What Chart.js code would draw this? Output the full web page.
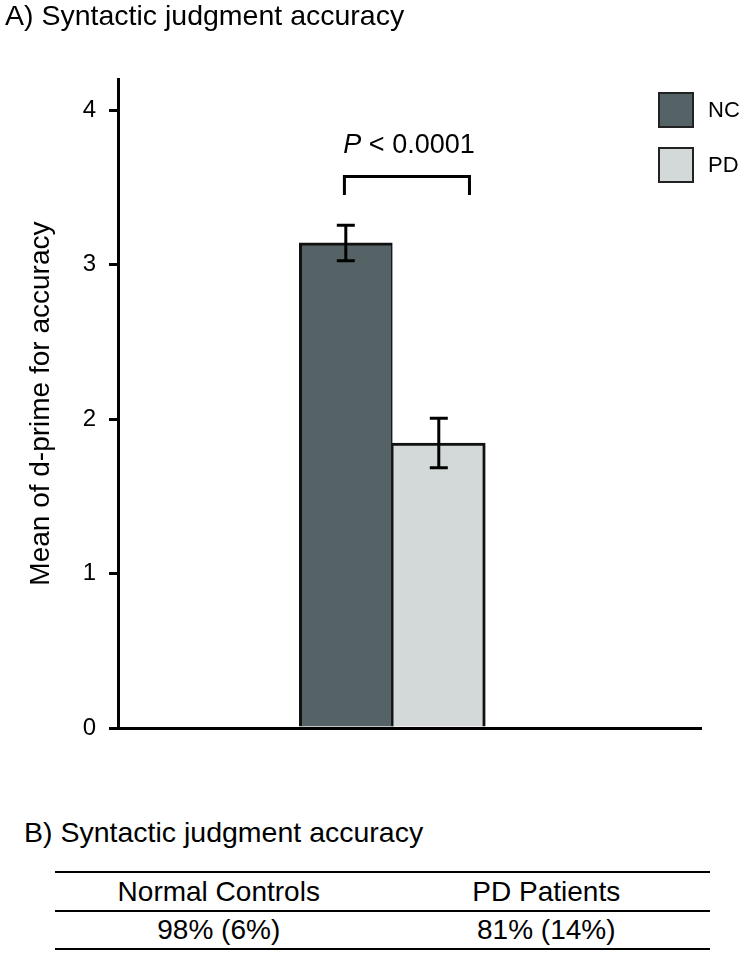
<!DOCTYPE html>
<html>
<head>
<meta charset="utf-8">
<script src="https://cdn.jsdelivr.net/npm/chart.js@4.4.1/dist/chart.umd.min.js"></script>
<style>
  body { margin: 0; background: #fff; font-family: "Liberation Sans", Arial, sans-serif; color: #000; }
  #wrap { position: relative; width: 750px; height: 954px; overflow: hidden; }
  #chart { position: absolute; left: 0; top: 0; }
  #partB { position: absolute; left: 24px; top: 818px; font-size: 28.5px; line-height: 28px; white-space: nowrap; }
  #tbl { position: absolute; left: 55px; top: 871px; width: 655px; border-collapse: collapse; font-size: 28px; }
  #tbl td { text-align: center; padding: 0; width: 50%; line-height: 28px; }
  #tbl tr:first-child td { height: 37px; border-top: 2px solid #000; border-bottom: 2px solid #000; }
  #tbl tr:last-child td { height: 36px; border-bottom: 2px solid #000; }
</style>
</head>
<body>
<div id="wrap">
  <canvas id="chart" width="750" height="760"></canvas>
  <div id="partB"></div>
  <table id="tbl"></table>
</div>
<script>
// chart values
const groups = ['NC', 'PD'];
const groupPos = [1, 2];
const meanDPrime = [3.14, 1.845];
const errDPrime = [0.115, 0.16];
const barColors = ['#566366', '#d3d9d8'];
const pLabel = ['P', ' < 0.0001'];
// bracket in data units: [x start, x end], [level, leg end]
const bracketX = [0.985, 2.33];
const bracketY = [3.57, 3.45];
const pLabelAt = [1.68, 3.72];

// titles and table B
const titleA = 'A) Syntactic judgment accuracy';
const titleB = 'B) Syntactic judgment accuracy';
const tableHeader = ['Normal Controls', 'PD Patients'];
const tableValues = ['98% (6%)', '81% (14%)'];

const FONT = '"Liberation Sans", Arial, sans-serif';

document.querySelector('#partB').innerText = titleB;
const tbl = document.querySelector('#tbl');
[tableHeader, tableValues].forEach(row => {
  const tr = document.createElement('tr');
  row.forEach(txt => {
    const td = document.createElement('td');
    td.innerText = txt;
    tr.appendChild(td);
  });
  tbl.appendChild(tr);
});

// error bars, bracket with p value, legend boxes
const extrasPlugin = {
  id: 'extras',
  afterDatasetsDraw(chart) {
    const ctx = chart.ctx;
    const xs = chart.scales.x;
    const ys = chart.scales.y;
    ctx.save();
    ctx.strokeStyle = '#000';
    ctx.lineWidth = 3;

    chart.data.datasets.forEach((ds, i) => {
      const bar = chart.getDatasetMeta(i).data[0];
      const top = ys.getPixelForValue(meanDPrime[i] + errDPrime[i]);
      const bottom = ys.getPixelForValue(meanDPrime[i] - errDPrime[i]);
      ctx.beginPath();
      ctx.moveTo(bar.x, top); ctx.lineTo(bar.x, bottom);
      ctx.moveTo(bar.x - 9, top); ctx.lineTo(bar.x + 9, top);
      ctx.moveTo(bar.x - 9, bottom); ctx.lineTo(bar.x + 9, bottom);
      ctx.stroke();
    });

    // significance bracket
    const bx1 = xs.getPixelForValue(bracketX[0]);
    const bx2 = xs.getPixelForValue(bracketX[1]);
    const by = ys.getPixelForValue(bracketY[0]);
    const byLeg = ys.getPixelForValue(bracketY[1]);
    ctx.beginPath();
    ctx.moveTo(bx1, byLeg); ctx.lineTo(bx1, by); ctx.lineTo(bx2, by); ctx.lineTo(bx2, byLeg);
    ctx.stroke();

    ctx.fillStyle = '#000';
    ctx.textBaseline = 'alphabetic';
    ctx.textAlign = 'left';
    const italic = 'italic 27px ' + FONT;
    const normal = '27px ' + FONT;
    ctx.font = italic;
    const w1 = ctx.measureText(pLabel[0]).width;
    ctx.font = normal;
    const w2 = ctx.measureText(pLabel[1]).width;
    const tx = xs.getPixelForValue(pLabelAt[0]) - (w1 + w2) / 2;
    const ty = ys.getPixelForValue(pLabelAt[1]);
    ctx.font = italic;
    ctx.fillText(pLabel[0], tx, ty);
    ctx.font = normal;
    ctx.fillText(pLabel[1], tx + w1, ty);

    // legend
    ctx.lineWidth = 2;
    ctx.strokeStyle = '#222';
    ctx.font = '22px ' + FONT;
    ctx.textBaseline = 'middle';
    chart.data.datasets.forEach((ds, i) => {
      const lx = 659, ly = 93 + i * 55;
      ctx.fillStyle = ds.backgroundColor;
      ctx.fillRect(lx, ly, 34, 34);
      ctx.strokeRect(lx, ly, 34, 34);
      ctx.fillStyle = '#000';
      ctx.fillText(ds.label, 708, ly + 18);
    });
    ctx.restore();
  }
};

const datasets = groups.map((g, i) => ({
  label: g,
  data: [{ x: groupPos[i], y: meanDPrime[i] }],
  backgroundColor: barColors[i],
  borderColor: '#111',
  borderWidth: i === 0 ? { top: 3, left: 3, right: 1.5, bottom: 0 } : { top: 3, left: 1.5, right: 3, bottom: 0 },
  borderSkipped: false,
  grouped: false,
  barPercentage: 1,
  categoryPercentage: 1
}));

new Chart(document.querySelector('#chart').getContext('2d'), {
  type: 'bar',
  data: { datasets: datasets },
  options: {
    responsive: false,
    animation: false,
    layout: { padding: { left: 5, right: 49, top: 0, bottom: 0 } },
    scales: {
      x: {
        type: 'linear',
        min: -1.45,
        max: 4.82,
        offset: false,
        z: 1,
        ticks: { display: false, stepSize: 1, includeBounds: false },
        grid: { display: false, offset: false },
        border: { display: true, color: '#000', width: 3 },
        afterFit: s => { s.height = 32; }
      },
      y: {
        min: 0,
        max: 4.2,
        z: 1,
        ticks: { stepSize: 1, includeBounds: false, color: '#000', padding: 13, font: { family: FONT, size: 24 } },
        grid: { drawOnChartArea: false, drawTicks: true, tickLength: 9, color: '#000', lineWidth: 3 },
        border: { display: true, color: '#000', width: 3 },
        title: {
          display: true,
          text: 'Mean of d-prime for accuracy',
          color: '#000',
          font: { family: FONT, size: 28 },
          padding: { top: 19, bottom: 0 }
        },
        afterFit: s => { s.width = 113; }
      }
    },
    plugins: {
      legend: { display: false },
      tooltip: { enabled: false },
      title: {
        display: true,
        text: titleA,
        align: 'start',
        color: '#000',
        font: { family: FONT, size: 28.5, weight: 'normal' },
        padding: { top: 0, bottom: 45 }
      }
    }
  },
  plugins: [extrasPlugin]
});
</script>
</body>
</html>
